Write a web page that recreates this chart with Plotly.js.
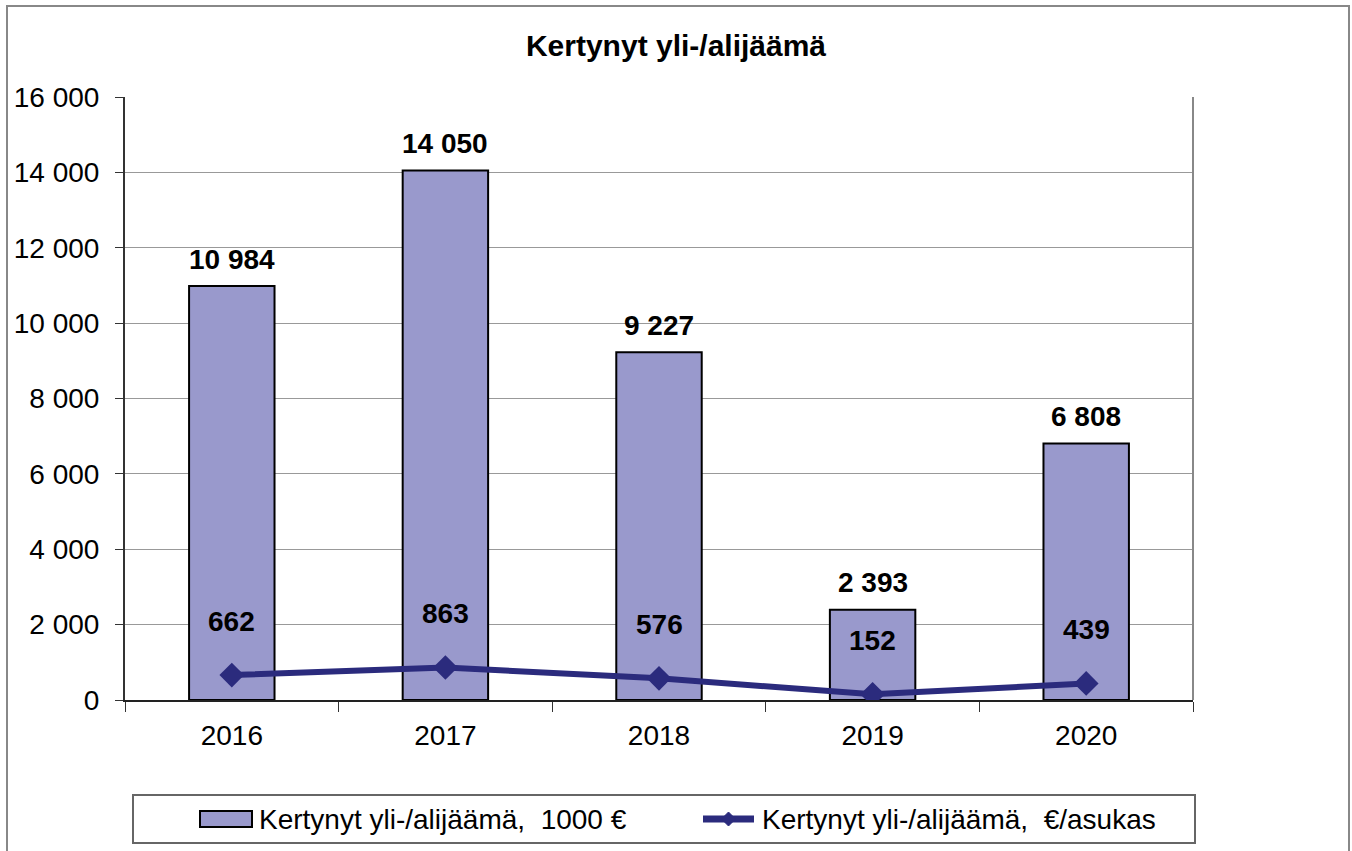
<!DOCTYPE html>
<html>
<head>
<meta charset="utf-8">
<script src="https://cdn.plot.ly/plotly-3.0.1.min.js"></script>
<style>html,body{margin:0;padding:0;background:#fff;}#chart{width:1352px;height:851px;}</style>
</head>
<body>
<div id="chart"></div>
<script>
// ---- data ----
const years = ["2016", "2017", "2018", "2019", "2020"];
const surplusThousand = [10984, 14050, 9227, 2393, 6808];
const surplusPerCapita = [662, 863, 576, 152, 439];
const seriesNames = ["Kertynyt yli-/alijäämä,\u00a0 1000 €", "Kertynyt yli-/alijäämä, \u00a0€/asukas"];
const chartTitle = "Kertynyt yli-/alijäämä";
const yTicks = [0, 2000, 4000, 6000, 8000, 10000, 12000, 14000, 16000];

// ---- style ----
const FONT = "Liberation Sans, Arial, sans-serif";
const BAR_COLOR = "#9999cc";
const LINE_COLOR = "#2b2b7d";
const W = 1352, H = 851;
const M = {l: 125, r: 159, t: 97, b: 151};
const PW = W - M.l - M.r, PH = H - M.t - M.b;
const px = x => (x - M.l) / PW;          // page x -> paper x
const py = y => (H - M.b - y) / PH;      // page y -> paper y

function fmt(v) { return String(v).replace(/\B(?=(\d{3})+(?!\d))/g, " "); }

const traces = [
  {
    type: "bar", x: years, y: surplusThousand, name: seriesNames[0],
    width: 0.4,
    marker: {color: BAR_COLOR, line: {color: "#000", width: 2}},
    hoverinfo: "skip", showlegend: false
  },
  {
    type: "scatter", mode: "lines+markers", x: years, y: surplusPerCapita, name: seriesNames[1],
    line: {color: LINE_COLOR, width: 6},
    marker: {symbol: "diamond", size: 19, color: LINE_COLOR},
    hoverinfo: "skip", showlegend: false
  }
];

const annotations = [];
years.forEach((yr, i) => {
  // category axes take the serial index of the category
  annotations.push({x: i, y: surplusThousand[i], xref: "x", yref: "y", text: "<b>" + fmt(surplusThousand[i]) + "</b>",
    showarrow: false, yanchor: "middle", yshift: 27, font: {family: FONT, size: 28, color: "#000"}});
  annotations.push({x: i, y: surplusPerCapita[i], xref: "x", yref: "y", text: "<b>" + fmt(surplusPerCapita[i]) + "</b>",
    showarrow: false, yanchor: "middle", yshift: 54, font: {family: FONT, size: 28, color: "#000"}});
});
// legend texts
annotations.push({x: px(257), y: py(819), xref: "paper", yref: "paper", xanchor: "left", yanchor: "middle",
  text: seriesNames[0], showarrow: false, font: {family: FONT, size: 28, color: "#000"}});
annotations.push({x: px(760), y: py(819), xref: "paper", yref: "paper", xanchor: "left", yanchor: "middle",
  text: seriesNames[1], showarrow: false, font: {family: FONT, size: 28, color: "#000"}});

const shapes = [
  // outer chart border
  {type: "rect", xref: "paper", yref: "paper", x0: px(7), x1: px(1349), y0: py(880), y1: py(6),
    line: {color: "#888", width: 2}, fillcolor: "rgba(0,0,0,0)", layer: "below"},
  // plot area right border
  {type: "line", xref: "paper", yref: "paper", x0: 1, x1: 1, y0: 0, y1: 1, line: {color: "#888", width: 2}},
  // legend box
  {type: "rect", xref: "paper", yref: "paper", x0: px(133), x1: px(1195), y0: py(843), y1: py(795),
    line: {color: "#666", width: 2}, fillcolor: "#fff"},
  // legend bar swatch
  {type: "rect", xref: "paper", yref: "paper", x0: px(200), x1: px(252), y0: py(827), y1: py(811),
    line: {color: "#000", width: 2}, fillcolor: BAR_COLOR},
  // legend line swatch
  {type: "line", xref: "paper", yref: "paper", x0: px(703), x1: px(754), y0: py(819), y1: py(819),
    line: {color: LINE_COLOR, width: 7}},
  {type: "path", xref: "paper", yref: "paper", xsizemode: "pixel", ysizemode: "pixel",
    xanchor: px(728.5), yanchor: py(819), path: "M -7 0 L 0 7 L 7 0 L 0 -7 Z",
    fillcolor: LINE_COLOR, line: {color: LINE_COLOR, width: 1}}
];

const layout = {
  width: W, height: H, autosize: false,
  margin: {l: M.l, r: M.r, t: M.t, b: M.b, pad: 0},
  paper_bgcolor: "#fff", plot_bgcolor: "#fff",
  separators: ", ",
  font: {family: FONT, size: 28, color: "#000"},
  title: {text: "<b>" + chartTitle + "</b>", xref: "container", yref: "container", x: 0.5, y: 1 - 45 / H,
    xanchor: "center", yanchor: "middle", font: {family: FONT, size: 30, color: "#000"}},
  showlegend: false,
  xaxis: {
    type: "category", range: [-0.5, years.length - 0.5], autorange: false,
    tickson: "boundaries", ticks: "outside", ticklen: 10, tickwidth: 1, tickcolor: "#333",
    showline: true, linecolor: "#222", linewidth: 2, showgrid: false, zeroline: false, tickangle: 0,
    tickfont: {family: FONT, size: 28, color: "#000"}, ticklabelstandoff: 9, fixedrange: true
  },
  yaxis: {
    range: [0, 16000], autorange: false, tickvals: yTicks, ticktext: yTicks.map(fmt),
    ticks: "outside", ticklen: 8, tickwidth: 1, tickcolor: "#333",
    showline: true, linecolor: "#333", linewidth: 2,
    showgrid: true, gridcolor: "#999", gridwidth: 1, zeroline: false,
    tickfont: {family: FONT, size: 28, color: "#000"}, ticklabelstandoff: 10, fixedrange: true
  },
  annotations: annotations,
  shapes: shapes
};

Plotly.newPlot("chart", traces, layout, {displayModeBar: false, staticPlot: true});
</script>
</body>
</html>
